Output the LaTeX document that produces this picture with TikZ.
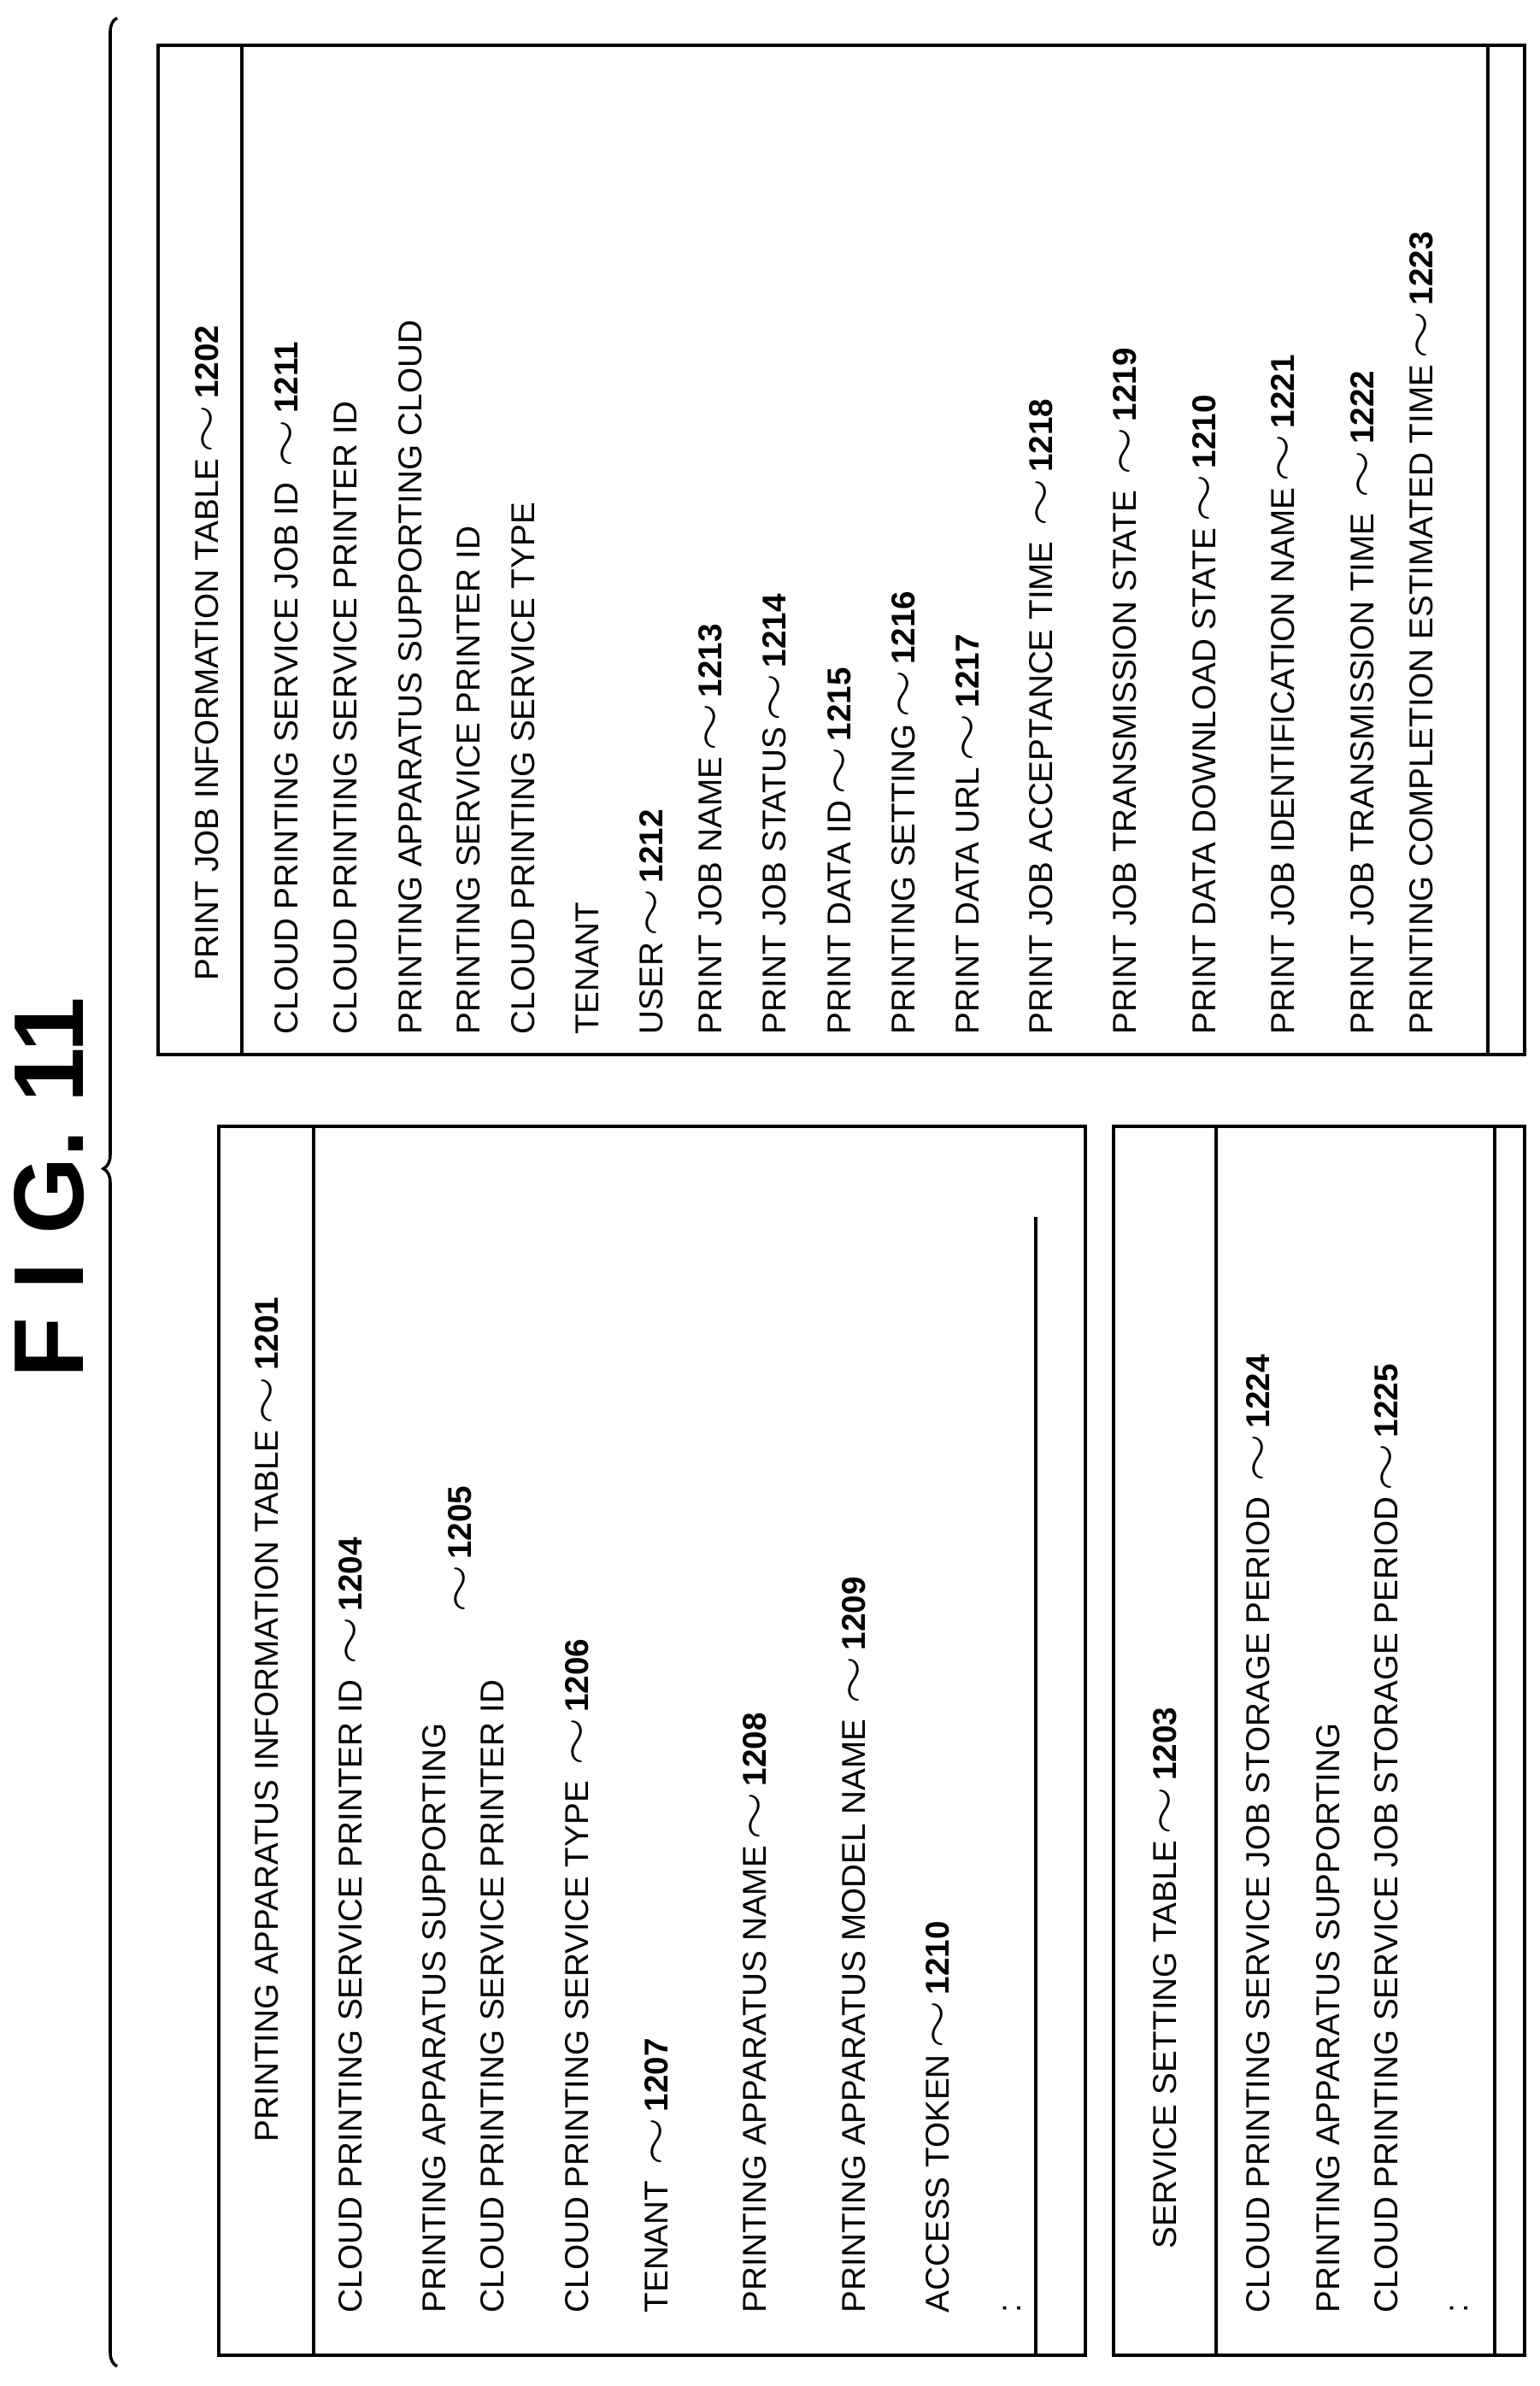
\documentclass[tikz,border=0pt]{standalone}
\usepackage{fontspec}
\setmainfont{Liberation Sans}
\usetikzlibrary{positioning}
\usetikzlibrary{decorations.pathreplacing}
\newcommand{\refno}[1]{\,\scalebox{1.9}[1.4]{$\sim$}\,\textbf{#1}}
\tikzset{
  tbl/.style={line width=1.1pt},
  row/.style={rotate=90, anchor=west, inner sep=0pt, align=left,
    font=\fontsize{11}{19.5}\selectfont}
}
\begin{document}
\begin{tikzpicture}
  \useasboundingbox (0,0) rectangle (18.02,-27.92);
  % title and brace
  \node[rotate=90, font=\bfseries\fontsize{33}{36}\selectfont] (title) at (0.58,-13.9) {F I G. 11};
  \draw[line width=1pt, decoration={brace, amplitude=0.16cm, aspect=0.51}, decorate]
    (1.37,-27.69) -- (1.37,-0.21);

  % print job information table
  \draw[tbl] (1.85,-0.53) rectangle (17.84,-12.34);
  \draw[tbl] (2.83,-0.53) -- (2.83,-12.34);
  \draw[tbl] (17.41,-0.53) -- (17.41,-12.34);
  \node[row] (pjt) at (2.42,-11.48) {PRINT JOB INFORMATION TABLE\refno{1202}};
  \node[row] (pj1) at (3.35,-12.11) {CLOUD PRINTING SERVICE JOB ID \refno{1211}};
  \node[row] (pj2) at (4.04,-12.11) {CLOUD PRINTING SERVICE PRINTER ID};
  \node[row] (pj3) at (5.14,-12.11) {PRINTING APPARATUS SUPPORTING CLOUD\\PRINTING SERVICE PRINTER ID};
  \node[row] (pj4) at (6.12,-12.11) {CLOUD PRINTING SERVICE TYPE};
  \node[row] (pj5) at (6.87,-12.11) {TENANT};
  \node[row] (pj6) at (7.62,-12.11) {USER\refno{1212}};
  \node[row] (pj7) at (8.31,-12.11) {PRINT JOB NAME\refno{1213}};
  \node[row] (pj8) at (9.06,-12.11) {PRINT JOB STATUS\refno{1214}};
  \node[row] (pj9) at (9.82,-12.11) {PRINT DATA ID\refno{1215}};
  \node[row] (pj10) at (10.57,-12.11) {PRINTING SETTING\refno{1216}};
  \node[row] (pj11) at (11.32,-12.11) {PRINT DATA URL\refno{1217}};
  \node[row] (pj12) at (12.18,-12.11) {PRINT JOB ACCEPTANCE TIME \refno{1218}};
  \node[row] (pj13) at (13.16,-12.11) {PRINT JOB TRANSMISSION STATE \refno{1219}};
  \node[row] (pj14) at (14.09,-12.11) {PRINT DATA DOWNLOAD STATE\refno{1210}};
  \node[row] (pj15) at (15.01,-12.11) {PRINT JOB IDENTIFICATION NAME\refno{1221}};
  \node[row] (pj16) at (15.94,-12.11) {PRINT JOB TRANSMISSION TIME \refno{1222}};
  \node[row] (pj17) at (16.63,-12.11) {PRINTING COMPLETION ESTIMATED TIME\refno{1223}};

  % printing apparatus information table
  \draw[tbl] (2.56,-13.18) rectangle (12.70,-27.56);
  \draw[tbl] (3.67,-13.18) -- (3.67,-27.56);
  \draw[tbl] (12.12,-14.24) -- (12.12,-27.56);
  \node[row] (pat) at (3.12,-25.07) {PRINTING APPARATUS INFORMATION TABLE\refno{1201}};
  \node[row] (pa1) at (4.10,-27.07) {CLOUD PRINTING SERVICE PRINTER ID \refno{1204}};
  \node[row] (pa2) at (5.42,-27.07) {PRINTING APPARATUS SUPPORTING\\CLOUD PRINTING SERVICE PRINTER ID};
  \node[row, font=\fontsize{11}{13}\selectfont] (pa2n) at (5.38,-18.95) {\refno{1205}};
  \node[row] (pa3) at (6.75,-27.07) {CLOUD PRINTING SERVICE TYPE \refno{1206}};
  \node[row] (pa4) at (7.68,-27.07) {TENANT \refno{1207}};
  \node[row] (pa5) at (8.83,-27.07) {PRINTING APPARATUS NAME\refno{1208}};
  \node[row] (pa6) at (9.99,-27.07) {PRINTING APPARATUS MODEL NAME \refno{1209}};
  \node[row] (pa7) at (10.97,-27.07) {ACCESS TOKEN\refno{1210}};
  \node[row] (pa8) at (11.84,-27.07) {:};

  % service setting table
  \draw[tbl] (13.03,-13.18) rectangle (17.84,-27.56);
  \draw[tbl] (14.23,-13.18) -- (14.23,-27.56);
  \draw[tbl] (17.49,-13.18) -- (17.49,-27.56);
  \node[row] (sst) at (13.63,-26.32) {SERVICE SETTING TABLE\refno{1203}};
  \node[row] (ss1) at (14.72,-27.07) {CLOUD PRINTING SERVICE JOB STORAGE PERIOD \refno{1224}};
  \node[row] (ss2) at (15.88,-27.07) {PRINTING APPARATUS SUPPORTING\\CLOUD PRINTING SERVICE JOB STORAGE PERIOD\refno{1225}};
  \node[row] (ss3) at (17.07,-27.07) {:};
\end{tikzpicture}
\end{document}
